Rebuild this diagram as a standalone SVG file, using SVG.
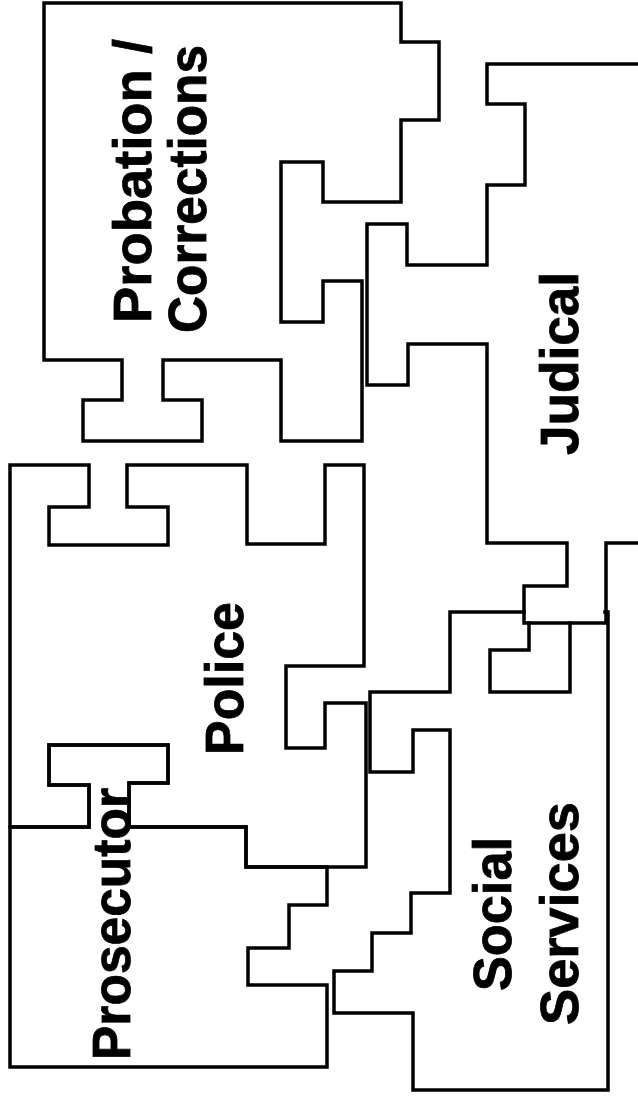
<svg xmlns="http://www.w3.org/2000/svg" width="638" height="1098" viewBox="0 0 638 1098">
<style>
.piece{fill:none;stroke:#000;stroke-width:3.5;stroke-linejoin:miter;stroke-linecap:square}
.lbl{font-family:"Liberation Sans",Arial,Helvetica,sans-serif;font-weight:bold;font-size:53px;fill:#000;stroke:#000;stroke-width:0.8}
</style>
<rect width="638" height="1098" fill="#fff"/>
<g id="probation">
<path class="piece" d="M44,3 H401 V42 H439 V120 H401 V202 H323 V162 H281 V322 H323 V281 H362 V441 H281 V360 H163 V400 H202 V441 H83 V400 H122 V360 H44 Z"/>
<text class="lbl" transform="translate(151,323) rotate(-90)" textLength="284" lengthAdjust="spacingAndGlyphs">Probation /</text>
<text class="lbl" transform="translate(206,333) rotate(-90)" textLength="288" lengthAdjust="spacingAndGlyphs">Corrections</text>
</g>
<g id="judical">
<path class="piece" d="M640,64 H487 V104 H525 V185 H487 V265 H407 V224 H367 V385 H408 V344 H487 V543 H567 V586 H524 V623 H606 V543 H640"/>
<text class="lbl" transform="translate(578,455) rotate(-90)" textLength="183" lengthAdjust="spacingAndGlyphs">Judical</text>
</g>
<g id="police">
<path class="piece" d="M10,465 H89 V507 H49 V545 H168 V507 H127 V465 H247 V544 H325 V465 H364 V666 H286 V748 H325 V703 H366 V867 H246 V827 H129 V783 H168 V745 H49 V785 H89 V827 H10 Z"/>
<text class="lbl" transform="translate(243,755) rotate(-90)" textLength="153" lengthAdjust="spacingAndGlyphs">Police</text>
</g>
<g id="prosecutor">
<path class="piece" d="M10,827 H89 V785 H49 V745 H168 V783 H129 V827 H246 V867 H327 V905 H289 V948 H248 V985 H327 V1067 H10 Z"/>
<text class="lbl" transform="translate(130,1060) rotate(-90)" textLength="272" lengthAdjust="spacingAndGlyphs">Prosecutor</text>
</g>
<g id="social-services">
<path class="piece" d="M524,612 H450 V692 H370 V772 H413 V730 H450 V893 H411 V933 H372 V971 H334 V1013 H413 V1090 H608 V612 H605"/>
<path class="piece" d="M529,623 V650 H490 V692 H570 V623"/>
<text class="lbl" transform="translate(511,991) rotate(-90)" textLength="154" lengthAdjust="spacingAndGlyphs">Social</text>
<text class="lbl" transform="translate(578,1025) rotate(-90)" textLength="223" lengthAdjust="spacingAndGlyphs">Services</text>
</g>
</svg>
